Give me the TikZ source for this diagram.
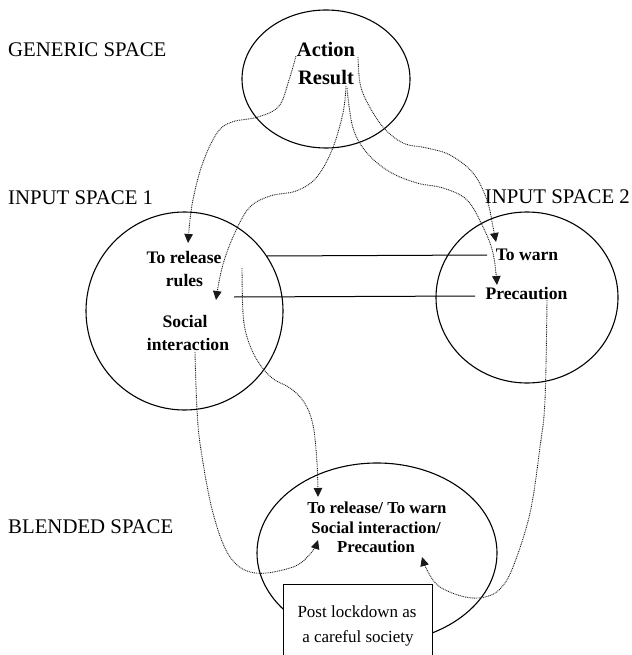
\documentclass[tikz,border=0pt]{standalone}
\usepackage{fontspec}
\setmainfont{Liberation Serif}
\usetikzlibrary{shapes.geometric,arrows.meta}
\begin{document}
\begin{tikzpicture}[x=1bp,y=-1bp,
  space/.style={draw, ellipse, line width=1.1bp, inner sep=0pt, outer sep=0pt},
  spacename/.style={anchor=base west, font=\fontsize{20.8bp}{24bp}\selectfont, inner sep=0pt},
  gen/.style={anchor=base, font=\fontsize{20.5bp}{24bp}\selectfont\bfseries, inner sep=0pt},
  inp/.style={anchor=base, font=\fontsize{17.6bp}{20bp}\selectfont\bfseries, inner sep=0pt},
  bl/.style={anchor=base, font=\fontsize{16.7bp}{20bp}\selectfont\bfseries, inner sep=0pt},
  boxtxt/.style={anchor=base, font=\fontsize{17bp}{20bp}\selectfont, inner sep=0pt},
  link/.style={line width=1bp},
  map/.style={line width=0.9bp, black!90, dash pattern=on 0.9bp off 0.9bp,
    -{Triangle[length=9bp,width=8.5bp]}}
]
\useasboundingbox (0,0) rectangle (632,655);
\clip (0,0) rectangle (632,655);

% spaces
\node[space, minimum width=168bp, minimum height=138bp] (generic) at (326,79) {};
\node[space, minimum width=197bp, minimum height=198bp] (in1) at (184.5,311) {};
\node[space, minimum width=182bp, minimum height=171bp] (in2) at (527,297.5) {};
\node[space, minimum width=240bp, minimum height=180bp] (blend) at (377,553) {};

% space names
\node[spacename] (lgen) at (8,57) {GENERIC SPACE};
\node[spacename] (lin1) at (8,204) {INPUT SPACE 1};
\node[spacename, anchor=base east] (lin2) at (630,203) {INPUT SPACE 2};
\node[spacename] (lbl) at (8,533) {BLENDED SPACE};

% connector end points
\coordinate (c1s) at (296,56);
\coordinate (c1e) at (188,243);
\coordinate (c2s) at (346,86);
\coordinate (c2e) at (216,300);
\coordinate (c3s) at (347,88);
\coordinate (c3e) at (497,285);
\coordinate (c4s) at (358,57);
\coordinate (c4e) at (496,242);
\coordinate (c5s) at (242,268);
\coordinate (c5e) at (318,497);
\coordinate (c6s) at (195,352);
\coordinate (c6e) at (318,540);
\coordinate (c7s) at (547,300);
\coordinate (c7e) at (422,557);
\coordinate (l1a) at (267,256);
\coordinate (l1b) at (487,255);
\coordinate (l2a) at (234,297);
\coordinate (l2b) at (475,296);

% solid links
\draw[link] (l1a) -- (l1b);
\draw[link] (l2a) -- (l2b);

% dotted mappings
\draw[map] plot[smooth, tension=0.6] coordinates {(c1s) (289,80) (279,106) (258,117) (232,122) (217,133) (202,165) (192,205) (c1e)};
\draw[map] plot[smooth, tension=0.6] coordinates {(c2s) (343,113) (332,150) (316,178) (296,191) (270,196) (249,208) (233,237) (222,268) (c2e)};
\draw[map] plot[smooth, tension=0.6] coordinates {(c3s) (353,128) (367,153) (390,172) (417,183) (443,188) (467,200) (483,227) (493,253) (c3e)};
\draw[map] plot[smooth, tension=0.6] coordinates {(c4s) (360,83) (367,102) (383,127) (403,143) (427,148) (450,155) (473,173) (487,200) (493,227) (c4e)};
\draw[map] plot[smooth, tension=0.6] coordinates {(c5s) (243,313) (247,337) (257,360) (272,378) (290,388) (304,402) (313,425) (317,463) (c5e)};
\draw[map] plot[smooth, tension=0.6] coordinates {(c6s) (197,410) (201,450) (213,513) (230,557) (255,573) (293,567) (311,553) (c6e)};
\draw[map] plot[smooth, tension=0.6] coordinates {(c7s) (545,400) (540,447) (530,513) (513,567) (500,589) (485,597) (465,597) (440,587) (428,572) (c7e)};

% box
\node[draw, fill=white, line width=1bp, minimum width=149bp, minimum height=80bp, anchor=north, inner sep=0pt] (box) at (357.5,584) {};

% texts
\node[gen] (action) at (326,57) {Action};
\node[gen] (result) at (326,85) {Result};
\node[inp] (torel) at (184,263) {To release};
\node[inp] (rules) at (184.5,286) {rules};
\node[inp] (social) at (185,327) {Social};
\node[inp] (interaction) at (188,350) {interaction};
\node[inp] (towarn) at (527,260) {To warn};
\node[inp] (precaution) at (526.5,299) {Precaution};
\node[bl] (b1) at (377,513) {To release/ To warn};
\node[bl] (b2) at (376,533) {Social interaction/};
\node[bl] (b3) at (376,552) {Precaution};
\node[boxtxt] (p1) at (357,617) {Post lockdown as};
\node[boxtxt] (p2) at (358,642) {a careful society};
\end{tikzpicture}
\end{document}
